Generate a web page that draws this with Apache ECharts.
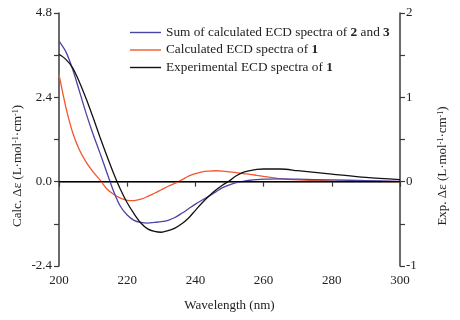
<!DOCTYPE html>
<html>
<head>
<meta charset="utf-8">
<script src="https://cdn.jsdelivr.net/npm/echarts@6/dist/echarts.min.js"></script>
<style>
  html, body { margin: 0; padding: 0; background: #fff; }
  #chart { width: 460px; height: 320px; }
</style>
</head>
<body>
<div id="chart"></div>
<script>
// Datos (longitud de onda en nm)
const longitudes = [200, 202, 204, 206, 208, 210, 212, 214, 216, 218, 220, 222, 224, 226, 228, 230, 232, 234, 236, 238, 240, 242, 244, 246, 248, 250, 252, 254, 256, 258, 260, 265, 270, 280, 290, 300];

// Suma de espectros calculados de 2 y 3 (eje izquierdo)
const sumaCalc = [4.0, 3.7, 3.2, 2.57, 1.93, 1.35, 0.82, 0.27, -0.27, -0.7, -0.95, -1.1, -1.16, -1.18, -1.16, -1.14, -1.1, -1.02, -0.9, -0.77, -0.64, -0.52, -0.41, -0.29, -0.17, -0.09, -0.03, 0.01, 0.04, 0.06, 0.07, 0.08, 0.07, 0.05, 0.03, 0.01];

// Espectro calculado de 1 (eje izquierdo)
const calc1 = [3.05, 2.12, 1.4, 0.9, 0.55, 0.28, 0.05, -0.2, -0.36, -0.47, -0.53, -0.54, -0.5, -0.42, -0.33, -0.23, -0.13, -0.05, 0.05, 0.16, 0.23, 0.28, 0.3, 0.31, 0.3, 0.28, 0.26, 0.23, 0.21, 0.18, 0.15, 0.08, 0.05, 0.02, 0.01, 0.0];

// Espectro experimental de 1 (eje derecho)
const exp1 = [1.51, 1.45, 1.35, 1.18, 0.98, 0.76, 0.53, 0.31, 0.1, -0.09, -0.25, -0.38, -0.49, -0.56, -0.59, -0.6, -0.58, -0.55, -0.5, -0.43, -0.34, -0.25, -0.17, -0.1, -0.04, 0.01, 0.07, 0.11, 0.13, 0.145, 0.15, 0.15, 0.13, 0.09, 0.05, 0.025];

const nombres = [
    'Sum of calculated ECD spectra of 2 and 3',
    'Calculated ECD spectra of 1',
    'Experimental ECD spectra of 1'
];
const colores = ['#4a44a6', '#f4562f', '#111111'];

const fuente = 'Liberation Serif';
const ejeColor = '#3a3a3a';

function pares(ys) {
    return longitudes.map((x, i) => [x, ys[i]]);
}

// Etiqueta del eje con superíndices
function etiquetaEje(prefijo) {
    return prefijo + ' (L·mol{sup|-1}·cm{sup|-1})';
}
const richSup = {
    sup: { fontSize: 8, fontFamily: fuente, fill: '#222', verticalAlign: 'top', lineHeight: 8, padding: [0, 0, 6, 0] }
};

const grafico = echarts.init(document.getElementById('chart'));
grafico.setOption({
    animation: false,
    textStyle: { fontFamily: fuente },
    grid: { left: 59, right: 60, top: 13, bottom: 54 },
    legend: {
        orient: 'vertical',
        left: 125,
        top: 21,
        icon: 'rect',
        itemWidth: 31,
        itemHeight: 1.4,
        itemGap: 4.5,
        data: nombres,
        textStyle: {
            fontFamily: fuente, fontSize: 13.3, color: '#222',
            rich: { b: { fontWeight: 'bold', fontFamily: fuente, fontSize: 13.3, color: '#222' } }
        },
        formatter: function (n) {
            return n.replace(/ (\d)( |$)/g, ' {b|$1}$2');
        }
    },
    xAxis: {
        type: 'value',
        min: 200, max: 300, interval: 20,
        name: 'Wavelength (nm)',
        nameLocation: 'middle',
        nameGap: 33,
        nameTextStyle: { fontFamily: fuente, fontSize: 13, color: '#222' },
        axisLine: { lineStyle: { color: ejeColor, width: 1.5 } },
        axisTick: { inside: false, length: 5, lineStyle: { color: ejeColor, width: 1.2 } },
        axisLabel: { fontFamily: fuente, fontSize: 13, color: '#222', margin: 8 },
        splitLine: { show: false }
    },
    yAxis: [
        {
            type: 'value',
            min: -2.4, max: 4.8, interval: 1.2,
            axisLine: { show: true, onZero: false, lineStyle: { color: ejeColor, width: 1.5 } },
            axisTick: { inside: false, length: 5, lineStyle: { color: ejeColor, width: 1.2 } },
            axisLabel: {
                fontFamily: fuente, fontSize: 13, color: '#222', margin: 7,
                formatter: function (v) {
                    const k = Math.round(v / 1.2);
                    return k % 2 === 0 ? v.toFixed(1) : '';
                }
            },
            splitLine: { show: false }
        },
        {
            type: 'value',
            min: -1, max: 2, interval: 0.5,
            position: 'right',
            axisLine: { show: true, onZero: false, lineStyle: { color: ejeColor, width: 1.5 } },
            axisTick: { inside: false, length: 5, lineStyle: { color: ejeColor, width: 1.2 } },
            axisLabel: {
                fontFamily: fuente, fontSize: 13, color: '#222', margin: 6,
                formatter: function (v) {
                    return Number.isInteger(v) ? String(v) : '';
                }
            },
            splitLine: { show: false }
        }
    ],
    graphic: [
        {
            type: 'text', x: 18, y: 166, rotation: Math.PI / 2,
            style: {
                text: etiquetaEje('Calc. Δε'), rich: richSup,
                fontFamily: fuente, fontSize: 13, fill: '#222',
                align: 'center', verticalAlign: 'middle'
            }
        },
        {
            type: 'text', x: 443, y: 166, rotation: Math.PI / 2,
            style: {
                text: etiquetaEje('Exp. Δε'), rich: richSup,
                fontFamily: fuente, fontSize: 13, fill: '#222',
                align: 'center', verticalAlign: 'middle'
            }
        }
    ],
    series: [
        {
            name: nombres[0], type: 'line', yAxisIndex: 0,
            data: pares(sumaCalc), smooth: 0.3, symbol: 'none',
            lineStyle: { color: colores[0], width: 1.3 }, itemStyle: { color: colores[0] },
            z: 3,
            markLine: {
                silent: true, symbol: 'none', label: { show: false },
                lineStyle: { color: '#000', width: 1.2, type: 'solid' },
                data: [{ yAxis: 0 }]
            }
        },
        {
            name: nombres[1], type: 'line', yAxisIndex: 0,
            data: pares(calc1), smooth: 0.3, symbol: 'none',
            lineStyle: { color: colores[1], width: 1.3 }, itemStyle: { color: colores[1] },
            z: 2
        },
        {
            name: nombres[2], type: 'line', yAxisIndex: 1,
            data: pares(exp1), smooth: 0.3, symbol: 'none',
            lineStyle: { color: colores[2], width: 1.3 }, itemStyle: { color: colores[2] },
            z: 4
        }
    ]
});
</script>
</body>
</html>
